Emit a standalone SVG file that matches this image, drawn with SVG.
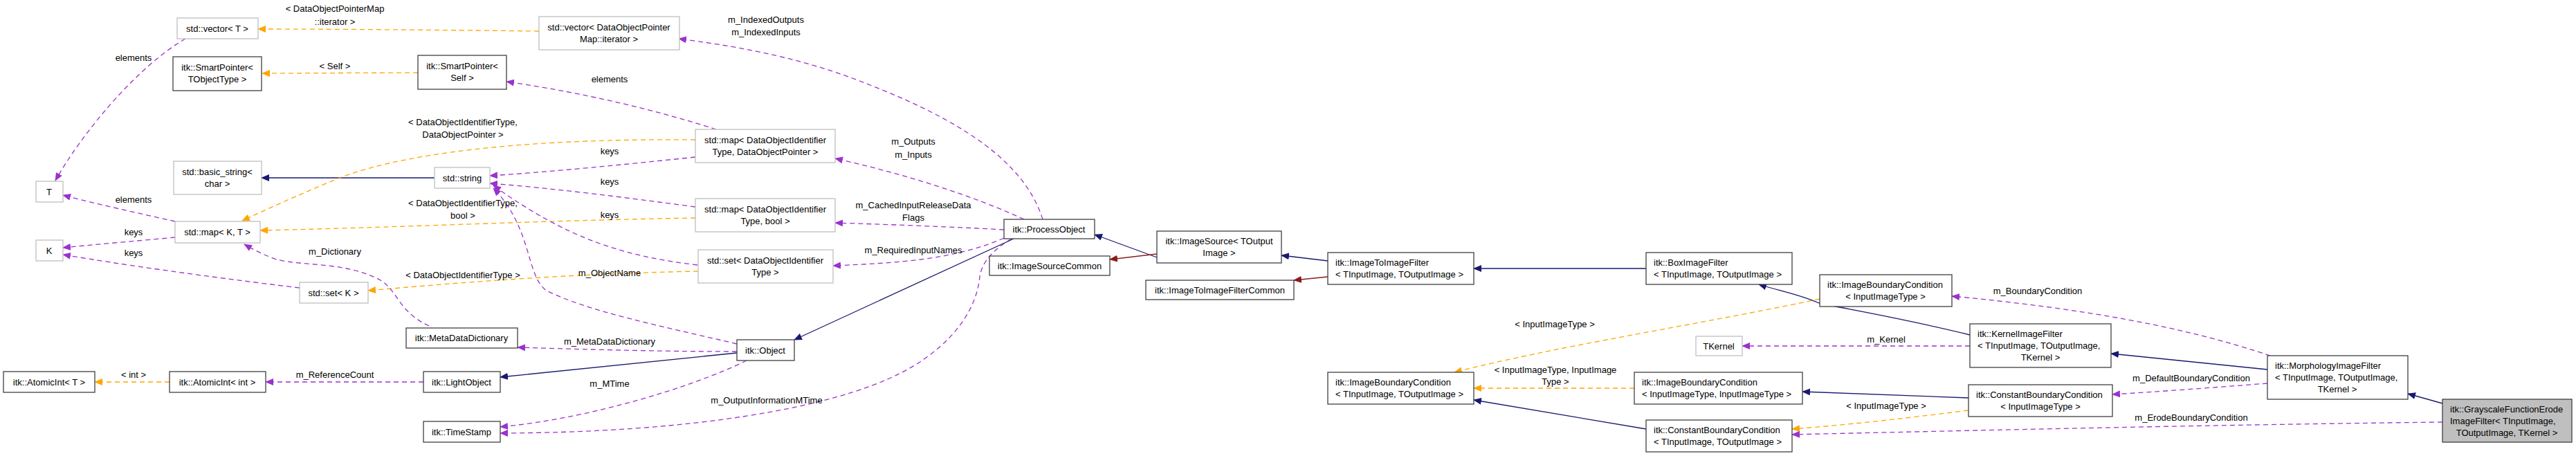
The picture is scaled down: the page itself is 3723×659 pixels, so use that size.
<svg xmlns="http://www.w3.org/2000/svg" width="3723" height="659" viewBox="0 0 3723 659">
<style>
text{font-family:"Liberation Sans",Arial,sans-serif;font-size:13px;fill:#000}
.m{text-anchor:middle}
.n rect{fill:#fff;stroke:#404040;stroke-width:1.3}
.g rect{fill:#fff;stroke:#bfbfbf;stroke-width:1.3}
.c path{fill:none;stroke-width:1.3}
.u{stroke:#9a32cd;stroke-dasharray:7,5}
.t{stroke:#ffa500;stroke-dasharray:7,5}
.i{stroke:#191970}
.r{stroke:#8b1a1a}
</style>
<defs>
<marker id="au" markerWidth="12" markerHeight="10" refX="11" refY="5" orient="auto" markerUnits="userSpaceOnUse"><path d="M0,0 L12,5 L0,10 z" fill="#9a32cd"/></marker>
<marker id="at" markerWidth="12" markerHeight="10" refX="11" refY="5" orient="auto" markerUnits="userSpaceOnUse"><path d="M0,0 L12,5 L0,10 z" fill="#ffa500"/></marker>
<marker id="ai" markerWidth="12" markerHeight="10" refX="11" refY="5" orient="auto" markerUnits="userSpaceOnUse"><path d="M0,0 L12,5 L0,10 z" fill="#191970"/></marker>
<marker id="ar" markerWidth="12" markerHeight="10" refX="11" refY="5" orient="auto" markerUnits="userSpaceOnUse"><path d="M0,0 L12,5 L0,10 z" fill="#8b1a1a"/></marker>
</defs>
<rect width="3723" height="659" fill="#fff"/>
<g id="connectors" class="c">
<path class="u" d="M268,56 C200,95 120,190 80,261" marker-end="url(#au)"/>
<path class="t" d="M604,105 L379,106" marker-end="url(#at)"/>
<path class="t" d="M779,45 C600,43 480,42 373,42" marker-end="url(#at)"/>
<path class="i" d="M628,257 L378,257" marker-end="url(#ai)"/>
<path class="t" d="M1005,202 C800,200 600,215 491,257 C430,282 380,305 350,319" marker-end="url(#at)"/>
<path class="t" d="M1005,315 C800,318 600,328 376,333" marker-end="url(#at)"/>
<path class="t" d="M1009,392 C850,395 700,405 532,420" marker-end="url(#at)"/>
<path class="u" d="M253,320 C200,308 140,295 91,282" marker-end="url(#au)"/>
<path class="u" d="M253,343 C200,348 140,353 91,358" marker-end="url(#au)"/>
<path class="u" d="M433,416 C300,400 180,383 91,368" marker-end="url(#au)"/>
<path class="u" d="M620,471 C575,450 575,420 550,405 C500,378 440,385 400,375 C380,368 365,360 353,353" marker-end="url(#au)"/>
<path class="t" d="M245,552 L137,552" marker-end="url(#at)"/>
<path class="u" d="M612,552 L384,552" marker-end="url(#au)"/>
<path class="u" d="M1507,317 C1480,230 1380,170 1250,120 C1150,80 1050,65 981,56" marker-end="url(#au)"/>
<path class="u" d="M1035,187 C950,160 850,135 732,118" marker-end="url(#au)"/>
<path class="u" d="M1005,227 C900,238 800,248 708,254" marker-end="url(#au)"/>
<path class="u" d="M1005,299 C900,285 800,272 708,265" marker-end="url(#au)"/>
<path class="u" d="M1008,383 C900,370 820,345 713,268" marker-end="url(#au)"/>
<path class="u" d="M1065,497 C950,470 850,450 790,420 C760,400 770,330 713,272" marker-end="url(#au)"/>
<path class="u" d="M1065,508 C950,508 850,505 748,502" marker-end="url(#au)"/>
<path class="i" d="M1065,510 L723,545" marker-end="url(#ai)"/>
<path class="u" d="M1079,521 C1000,560 850,605 723,617" marker-end="url(#au)"/>
<path class="u" d="M1462,345 C1428,365 1418,385 1416,400 C1410,460 1360,510 1300,540 C1200,590 1000,625 723,626" marker-end="url(#au)"/>
<path class="u" d="M1480,317 C1400,280 1300,250 1207,229" marker-end="url(#au)"/>
<path class="u" d="M1451,332 C1380,328 1300,325 1207,322" marker-end="url(#au)"/>
<path class="u" d="M1451,344 C1380,375 1300,380 1204,384" marker-end="url(#au)"/>
<path class="i" d="M1465,345 L1148,491" marker-end="url(#ai)"/>
<path class="i" d="M1672,372 L1582,339" marker-end="url(#ai)"/>
<path class="r" d="M1672,367 L1604,375" marker-end="url(#ar)"/>
<path class="i" d="M1919,377 L1852,369" marker-end="url(#ai)"/>
<path class="r" d="M1919,400 L1870,405" marker-end="url(#ar)"/>
<path class="i" d="M2379,388 L2130,388" marker-end="url(#ai)"/>
<path class="t" d="M2630,432 C2450,470 2250,500 2102,538" marker-end="url(#at)"/>
<path class="t" d="M2362,561 L2130,561" marker-end="url(#at)"/>
<path class="i" d="M2379,620 L2130,578" marker-end="url(#ai)"/>
<path class="i" d="M2847,484 C2750,460 2660,445 2629,438 C2600,425 2570,420 2542,411" marker-end="url(#ai)"/>
<path class="u" d="M3281,514 C3150,470 3000,445 2821,428" marker-end="url(#au)"/>
<path class="u" d="M2847,500 L2518,500" marker-end="url(#au)"/>
<path class="i" d="M2845,575 L2605,566" marker-end="url(#ai)"/>
<path class="t" d="M2845,593 C2750,605 2680,613 2590,620" marker-end="url(#at)"/>
<path class="u" d="M3530,610 C3200,614 2900,621 2590,628" marker-end="url(#au)"/>
<path class="i" d="M3277,534 L3051,511" marker-end="url(#ai)"/>
<path class="u" d="M3277,554 C3200,560 3120,566 3053,570" marker-end="url(#au)"/>
<path class="i" d="M3530,583 L3480,569" marker-end="url(#ai)"/>
<text class="m" x="193" y="88">elements</text>
<text class="m" x="484" y="100">&lt; Self &gt;</text>
<text class="m" x="484" y="17">&lt; DataObjectPointerMap</text>
<text class="m" x="484" y="36">::iterator &gt;</text>
<text class="m" x="669" y="181">&lt; DataObjectIdentifierType,</text>
<text class="m" x="669" y="199">DataObjectPointer &gt;</text>
<text class="m" x="669" y="298">&lt; DataObjectIdentifierType,</text>
<text class="m" x="669" y="316">bool &gt;</text>
<text class="m" x="669" y="402">&lt; DataObjectIdentifierType &gt;</text>
<text class="m" x="193" y="293">elements</text>
<text class="m" x="193" y="340">keys</text>
<text class="m" x="193" y="370">keys</text>
<text class="m" x="484" y="368">m_Dictionary</text>
<text class="m" x="193" y="546">&lt; int &gt;</text>
<text class="m" x="484" y="546">m_ReferenceCount</text>
<text class="m" x="1107" y="33">m_IndexedOutputs</text>
<text class="m" x="1107" y="51">m_IndexedInputs</text>
<text class="m" x="881" y="119">elements</text>
<text class="m" x="881" y="223">keys</text>
<text class="m" x="881" y="267">keys</text>
<text class="m" x="881" y="315">keys</text>
<text class="m" x="881" y="399">m_ObjectName</text>
<text class="m" x="881" y="498">m_MetaDataDictionary</text>
<text class="m" x="881" y="559">m_MTime</text>
<text class="m" x="1108" y="583">m_OutputInformationMTime</text>
<text class="m" x="1320" y="209">m_Outputs</text>
<text class="m" x="1320" y="228">m_Inputs</text>
<text class="m" x="1320" y="301">m_CachedInputReleaseData</text>
<text class="m" x="1320" y="319">Flags</text>
<text class="m" x="1320" y="366">m_RequiredInputNames</text>
<text class="m" x="2247" y="473">&lt; InputImageType &gt;</text>
<text class="m" x="2248" y="539">&lt; InputImageType, InputImage</text>
<text class="m" x="2248" y="556">Type &gt;</text>
<text class="m" x="2945" y="425">m_BoundaryCondition</text>
<text class="m" x="2726" y="495">m_Kernel</text>
<text class="m" x="2726" y="591">&lt; InputImageType &gt;</text>
<text class="m" x="3167" y="551">m_DefaultBoundaryCondition</text>
<text class="m" x="3167" y="608">m_ErodeBoundaryCondition</text>
</g>
<g id="n1" class="g"><rect x="256" y="26" width="117" height="30"/><text class="m" x="314" y="46">std::vector&lt; T &gt;</text></g>
<g id="n2" class="n"><rect x="250" y="82" width="128" height="49"/><text class="m" x="314" y="102">itk::SmartPointer&lt;</text><text class="m" x="314" y="119">TObjectType &gt;</text></g>
<g id="n3" class="g"><rect x="251" y="233" width="127" height="48"/><text class="m" x="314" y="253">std::basic_string&lt;</text><text class="m" x="314" y="270">char &gt;</text></g>
<g id="n4" class="g"><rect x="52" y="262" width="39" height="30"/><text class="m" x="71" y="282">T</text></g>
<g id="n5" class="g"><rect x="52" y="347" width="39" height="30"/><text class="m" x="71" y="367">K</text></g>
<g id="n6" class="g"><rect x="253" y="320" width="123" height="31"/><text class="m" x="314" y="340">std::map&lt; K, T &gt;</text></g>
<g id="n7" class="g"><rect x="433" y="408" width="99" height="30"/><text class="m" x="482" y="428">std::set&lt; K &gt;</text></g>
<g id="n8" class="n"><rect x="587" y="474" width="161" height="29"/><text class="m" x="667" y="493">itk::MetaDataDictionary</text></g>
<g id="n9" class="n"><rect x="5" y="537" width="132" height="30"/><text class="m" x="71" y="557">itk::AtomicInt&lt; T &gt;</text></g>
<g id="n10" class="n"><rect x="245" y="537" width="139" height="30"/><text class="m" x="314" y="557">itk::AtomicInt&lt; int &gt;</text></g>
<g id="n11" class="n"><rect x="612" y="537" width="111" height="30"/><text class="m" x="667" y="557">itk::LightObject</text></g>
<g id="n12" class="n"><rect x="612" y="609" width="111" height="30"/><text class="m" x="667" y="629">itk::TimeStamp</text></g>
<g id="n13" class="n"><rect x="604" y="80" width="128" height="49"/><text class="m" x="668" y="100">itk::SmartPointer&lt;</text><text class="m" x="668" y="117">Self &gt;</text></g>
<g id="n14" class="g"><rect x="628" y="242" width="80" height="30"/><text class="m" x="668" y="262">std::string</text></g>
<g id="n15" class="g"><rect x="779" y="24" width="203" height="48"/><text class="m" x="880" y="44">std::vector&lt; DataObjectPointer</text><text class="m" x="880" y="61">Map::iterator &gt;</text></g>
<g id="n16" class="g"><rect x="1005" y="187" width="202" height="48"/><text class="m" x="1106" y="207">std::map&lt; DataObjectIdentifier</text><text class="m" x="1106" y="224">Type, DataObjectPointer &gt;</text></g>
<g id="n17" class="g"><rect x="1005" y="287" width="202" height="48"/><text class="m" x="1106" y="307">std::map&lt; DataObjectIdentifier</text><text class="m" x="1106" y="324">Type, bool &gt;</text></g>
<g id="n18" class="g"><rect x="1009" y="361" width="195" height="48"/><text class="m" x="1106" y="381">std::set&lt; DataObjectIdentifier</text><text class="m" x="1106" y="398">Type &gt;</text></g>
<g id="n19" class="n"><rect x="1065" y="491" width="83" height="30"/><text class="m" x="1106" y="511">itk::Object</text></g>
<g id="n20" class="n"><rect x="1451" y="317" width="131" height="28"/><text class="m" x="1516" y="336">itk::ProcessObject</text></g>
<g id="n21" class="n"><rect x="1430" y="370" width="174" height="28"/><text class="m" x="1517" y="389">itk::ImageSourceCommon</text></g>
<g id="n22" class="n"><rect x="1672" y="334" width="180" height="46"/><text class="m" x="1762" y="353">itk::ImageSource&lt; TOutput</text><text class="m" x="1762" y="370">Image &gt;</text></g>
<g id="n23" class="n"><rect x="1656" y="405" width="214" height="28"/><text class="m" x="1763" y="424">itk::ImageToImageFilterCommon</text></g>
<g id="n24" class="n"><rect x="1919" y="365" width="211" height="46"/><text x="1930" y="384">itk::ImageToImageFilter</text><text x="1930" y="401">&lt; TInputImage, TOutputImage &gt;</text></g>
<g id="n25" class="n"><rect x="1919" y="538" width="211" height="46"/><text x="1930" y="557">itk::ImageBoundaryCondition</text><text x="1930" y="574">&lt; TInputImage, TOutputImage &gt;</text></g>
<g id="n26" class="n"><rect x="2379" y="365" width="211" height="46"/><text x="2390" y="384">itk::BoxImageFilter</text><text x="2390" y="401">&lt; TInputImage, TOutputImage &gt;</text></g>
<g id="n27" class="n"><rect x="2630" y="397" width="191" height="46"/><text x="2641" y="416">itk::ImageBoundaryCondition</text><text class="m" x="2725" y="433">&lt; InputImageType &gt;</text></g>
<g id="n28" class="g"><rect x="2451" y="486" width="67" height="28"/><text class="m" x="2484" y="505">TKernel</text></g>
<g id="n29" class="n"><rect x="2847" y="468" width="204" height="63"/><text x="2858" y="487">itk::KernelImageFilter</text><text x="2858" y="504">&lt; TInputImage, TOutputImage,</text><text class="m" x="2949" y="521">TKernel &gt;</text></g>
<g id="n30" class="n"><rect x="2362" y="538" width="243" height="46"/><text x="2373" y="557">itk::ImageBoundaryCondition</text><text x="2373" y="574">&lt; InputImageType, InputImageType &gt;</text></g>
<g id="n31" class="n"><rect x="2845" y="556" width="208" height="46"/><text x="2856" y="575">itk::ConstantBoundaryCondition</text><text class="m" x="2949" y="592">&lt; InputImageType &gt;</text></g>
<g id="n32" class="n"><rect x="2379" y="607" width="211" height="46"/><text x="2390" y="626">itk::ConstantBoundaryCondition</text><text x="2390" y="643">&lt; TInputImage, TOutputImage &gt;</text></g>
<g id="n33" class="n"><rect x="3277" y="514" width="203" height="63"/><text x="3288" y="533">itk::MorphologyImageFilter</text><text x="3288" y="550">&lt; TInputImage, TOutputImage,</text><text class="m" x="3378" y="567">TKernel &gt;</text></g>
<g id="n34" class="n"><rect x="3530" y="577" width="187" height="62" style="fill:#bfbfbf"/><text x="3541" y="596">itk::GrayscaleFunctionErode</text><text x="3541" y="613">ImageFilter&lt; TInputImage,</text><text class="m" x="3623" y="630">TOutputImage, TKernel &gt;</text></g>
</svg>
